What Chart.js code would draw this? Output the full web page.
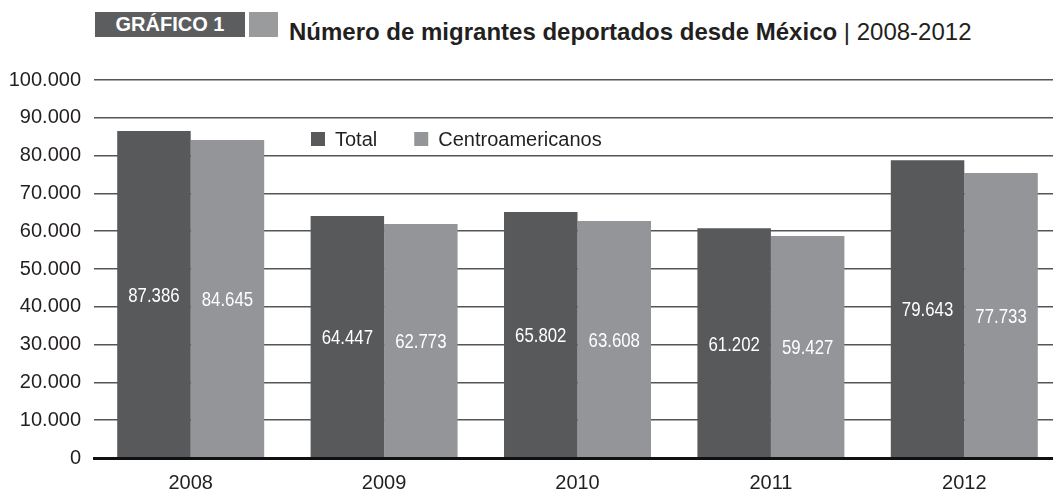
<!DOCTYPE html>
<html>
<head>
<meta charset="utf-8">
<script src="https://cdn.jsdelivr.net/npm/chart.js@4.4.1/dist/chart.umd.min.js"></script>
<style>
  html, body { margin:0; padding:0; background:#fff; overflow:hidden; width:1053px; height:495px; }
  #wrap { position:absolute; left:0; top:0; width:1062px; height:495px; }
  #badge { position:absolute; left:95px; top:12px; width:150px; height:25px; background:#5c5d5f;
           color:#fff; font:bold 20px "Liberation Sans", Arial, sans-serif; line-height:25px; text-align:center; }
  #badge2 { position:absolute; left:249px; top:12px; width:29px; height:25px; background:#9a9b9d; }
  #title { position:absolute; left:289px; top:18px; font:24px "Liberation Sans", Arial, sans-serif; color:#231f20; white-space:nowrap; }
  #title b { font-weight:bold; }
</style>
</head>
<body>
<div id="badge">GRÁFICO 1</div>
<div id="badge2"></div>
<div id="title"><b>Número de migrantes deportados desde México</b> | 2008-2012</div>
<div id="wrap"><canvas id="c" width="1062" height="495"></canvas></div>
<script>
// Categories
const years = ["2008", "2009", "2010", "2011", "2012"];
// Printed value labels
const totalLabels = ["87.386", "64.447", "65.802", "61.202", "79.643"];
const centroLabels = ["84.645", "62.773", "63.608", "59.427", "77.733"];
// Bar heights as drawn in the picture
const totalValues = [86500, 64000, 65100, 60800, 78800];
const centroValues = [84100, 61900, 62700, 58700, 75400];
// Y tick values
const yTicks = [0, 10000, 20000, 30000, 40000, 50000, 60000, 70000, 80000, 90000, 100000];
const seriesNames = ["Total", "Centroamericanos"];

const fmt = n => n.toString().replace(/\B(?=(\d{3})+(?!\d))/g, ".");

const valueLabels = {
  id: 'valueLabels',
  afterDatasetsDraw(chart) {
    const ctx = chart.ctx;
    chart.data.datasets.forEach((ds, di) => {
      const meta = chart.getDatasetMeta(di);
      meta.data.forEach((bar, i) => {
        const y = (bar.y + bar.base) / 2 + 2;
        ctx.save();
        ctx.translate(bar.x, y);
        ctx.scale(0.8, 1);
        ctx.fillStyle = '#ffffff';
        ctx.font = '21px "Liberation Sans", Arial, sans-serif';
        ctx.textAlign = 'center';
        ctx.textBaseline = 'middle';
        ctx.fillText(ds.valueText[i], 0, 0);
        ctx.restore();
      });
    });
  }
};

const innerLegend = {
  id: 'innerLegend',
  afterDraw(chart) {
    const ctx = chart.ctx;
    ctx.save();
    ctx.font = '20px "Liberation Sans", Arial, sans-serif';
    ctx.textBaseline = 'middle';
    ctx.textAlign = 'left';
    let x = 311;
    const y = 132;
    chart.data.datasets.forEach(ds => {
      ctx.fillStyle = ds.backgroundColor;
      ctx.fillRect(x, y, 14, 14);
      ctx.fillStyle = '#231f20';
      ctx.fillText(ds.label, x + 24, y + 8);
      x += 24 + ctx.measureText(ds.label).width + 37;
    });
    ctx.restore();
  }
};

new Chart(document.getElementById('c'), {
  type: 'bar',
  data: {
    labels: years,
    datasets: [
      { label: seriesNames[0], data: totalValues, valueText: totalLabels, backgroundColor: '#58595b',
        categoryPercentage: 0.76, barPercentage: 1.0 },
      { label: seriesNames[1], data: centroValues, valueText: centroLabels, backgroundColor: '#939598',
        categoryPercentage: 0.76, barPercentage: 1.0 }
    ]
  },
  options: {
    responsive: false,
    animation: false,
    devicePixelRatio: 1,
    layout: { padding: { left: 0, right: 1, top: 80, bottom: 0 } },
    plugins: { legend: { display: false }, tooltip: { enabled: false }, title: { display: false } },
    scales: {
      x: {
        grid: { display: false, drawTicks: false },
        border: { display: true, color: '#111', width: 3, z: 1 },
        ticks: { color: '#231f20', font: { family: '"Liberation Sans", Arial, sans-serif', size: 20 }, padding: 13 },
        afterFit(s) { s.height = 37; }
      },
      y: {
        min: 0, max: 100000,
        afterBuildTicks(s) { s.ticks = yTicks.map(v => ({ value: v })); },
        grid: { color: '#555', lineWidth: 1.5, drawTicks: false },
        border: { display: false },
        ticks: { color: '#231f20', font: { family: '"Liberation Sans", Arial, sans-serif', size: 20 }, padding: 13,
                 callback: v => fmt(v) },
        afterFit(s) { s.width = 94; }
      }
    }
  },
  plugins: [valueLabels, innerLegend]
});
</script>
</body>
</html>
